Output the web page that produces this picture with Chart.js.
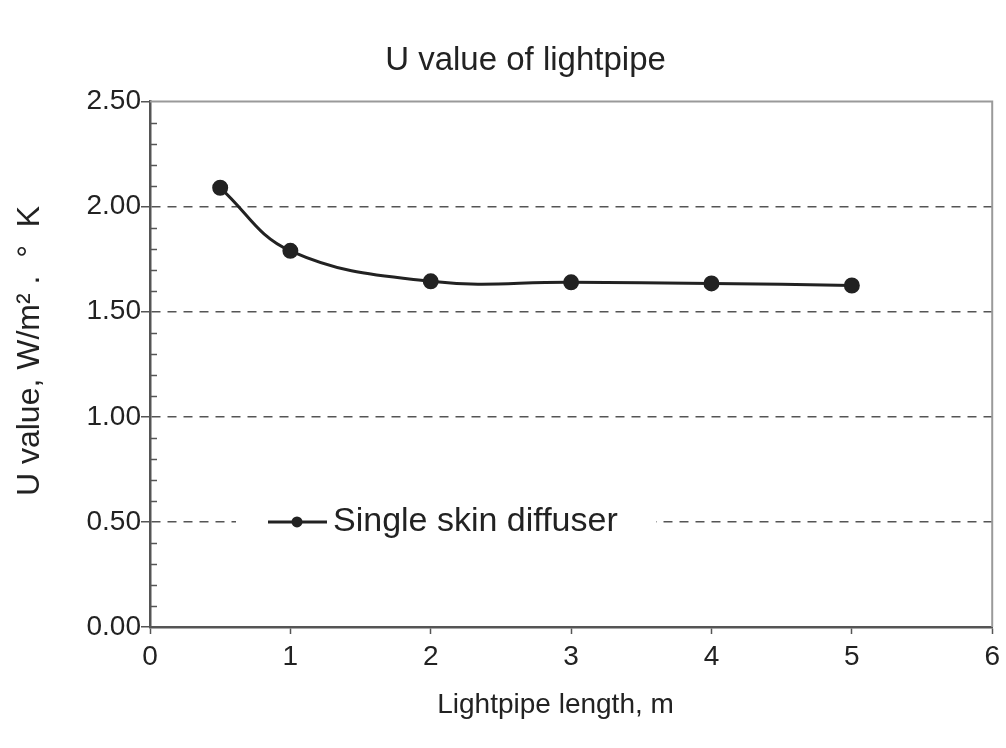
<!DOCTYPE html>
<html>
<head>
<meta charset="utf-8">
<script src="https://cdn.jsdelivr.net/npm/chart.js@4.4.0/dist/chart.umd.min.js"></script>
<style>
  html, body { margin: 0; padding: 0; background: #fff; }
  #wrap { width: 1006px; height: 748px; }
</style>
</head>
<body>
<div id="wrap"><canvas id="uChart"></canvas></div>
<script>
// values
const lengths = [0.5, 1, 2, 3, 4, 5];            // lightpipe length, m
const uValues = [2.09, 1.79, 1.645, 1.64, 1.635, 1.625];
const xTicks = [0, 1, 2, 3, 4, 5, 6];
const yTicks = [0, 0.5, 1, 1.5, 2, 2.5];
const seriesName = 'Single skin diffuser';

const FONT = "'Liberation Sans', Arial, sans-serif";
const INK = '#222';

// top + right border of the plot box
const frame = {
    id: 'frame',
    afterDraw(chart) {
        const a = chart.chartArea, c = chart.ctx;
        c.save();
        c.strokeStyle = '#9a9a9a';
        c.lineWidth = 2;
        c.beginPath();
        c.moveTo(a.left, a.top);
        c.lineTo(a.right, a.top);
        c.lineTo(a.right, a.bottom);
        c.stroke();
        c.restore();
    }
};

// small inward ticks every 0.1 on the y axis
const minorTicks = {
    id: 'minorTicks',
    afterDraw(chart) {
        const y = chart.scales.y, c = chart.ctx;
        const x0 = chart.chartArea.left;
        c.save();
        c.strokeStyle = '#555';
        c.lineWidth = 1.5;
        for (let i = 1; i < 25; i++) {
            if (i % 5 === 0) continue;
            const py = Math.round(y.getPixelForValue(i / 10)) + 0.5;
            c.beginPath();
            c.moveTo(x0, py);
            c.lineTo(x0 + 7, py);
            c.stroke();
        }
        c.restore();
    }
};

// legend sitting inside the plot, over the 0.50 grid line
const innerLegend = {
    id: 'innerLegend',
    afterDraw(chart) {
        const c = chart.ctx, ds = chart.data.datasets[0];
        const cy = chart.scales.y.getPixelForValue(0.5);
        c.save();
        c.fillStyle = '#fff';
        c.fillRect(236, cy - 20, 420, 40);
        c.strokeStyle = ds.borderColor;
        c.lineWidth = ds.borderWidth;
        c.beginPath();
        c.moveTo(268, cy);
        c.lineTo(327, cy);
        c.stroke();
        c.fillStyle = ds.pointBackgroundColor;
        c.beginPath();
        c.arc(297, cy, 5.5, 0, Math.PI * 2);
        c.fill();
        c.fillStyle = INK;
        c.font = '34px ' + FONT;
        c.textBaseline = 'middle';
        c.fillText(ds.label, 333, cy);
        c.restore();
    }
};

const ctx = document.getElementById('uChart').getContext('2d');

new Chart(ctx, {
    type: 'line',
    data: {
        datasets: [{
            label: seriesName,
            data: lengths.map((x, i) => ({ x: x, y: uValues[i] })),
            borderColor: INK,
            borderWidth: 3,
            pointBackgroundColor: INK,
            pointBorderColor: INK,
            pointRadius: 6.5,
            tension: 0.4,
            fill: false
        }]
    },
    options: {
        responsive: true,
        maintainAspectRatio: false,
        animation: false,
        layout: {
            padding: { top: 0, right: 10, bottom: 0, left: 0 }
        },
        plugins: {
            legend: { display: false },
            tooltip: { enabled: false },
            title: {
                display: true,
                text: '      U value of lightpipe',
                color: INK,
                font: { family: FONT, size: 33, weight: 'normal' },
                padding: { top: 41, bottom: 21 }
            }
        },
        scales: {
            x: {
                type: 'linear',
                min: 0,
                max: 6,
                afterBuildTicks: s => { s.ticks = xTicks.map(v => ({ value: v })); },
                afterFit: s => { s.height = 121; },
                ticks: {
                    color: INK,
                    padding: 6,
                    font: { family: FONT, size: 28 }
                },
                grid: {
                    drawOnChartArea: false,
                    tickLength: 7,
                    tickColor: '#555',
                    tickWidth: 1.5
                },
                border: { color: '#555', width: 2.5 },
                title: {
                    display: true,
                    text: 'Lightpipe length, m    ',
                    color: INK,
                    font: { family: FONT, size: 28 },
                    padding: { top: 0, bottom: 26 }
                }
            },
            y: {
                min: 0,
                max: 2.5,
                afterBuildTicks: s => { s.ticks = yTicks.map(v => ({ value: v })); },
                afterFit: s => { s.width = 150; },
                ticks: {
                    color: INK,
                    padding: 0,
                    font: { family: FONT, size: 28 },
                    callback: v => v.toFixed(2)
                },
                grid: {
                    color: ctx => (ctx.tick && (ctx.tick.value === 0 || ctx.tick.value === 2.5)) ? 'rgba(0,0,0,0)' : '#555',
                    lineWidth: 1.5,
                    tickLength: 9,
                    tickColor: '#555',
                    tickWidth: 1.5,
                    tickBorderDash: []
                },
                border: { color: '#555', width: 2.5, dash: [9, 7] },
                title: {
                    display: true,
                    text: '   U value, W/m\u00B2 .  \u00B0  K',
                    color: INK,
                    font: { family: FONT, size: 32 },
                    padding: { top: 11, bottom: 0 }
                }
            }
        }
    },
    plugins: [frame, minorTicks, innerLegend]
});
</script>
</body>
</html>
